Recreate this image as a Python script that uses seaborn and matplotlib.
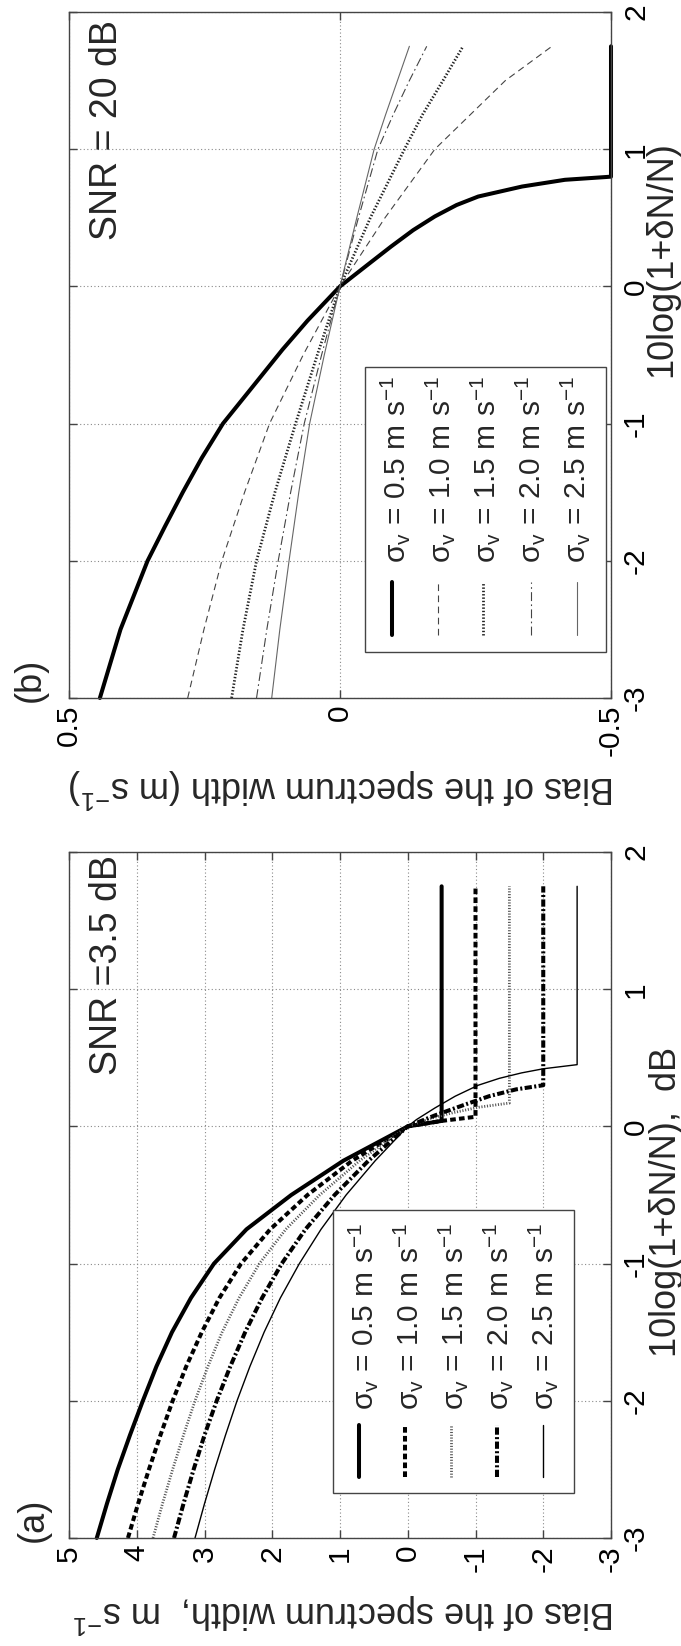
import numpy as np
import pandas as pd
import matplotlib
matplotlib.use("Agg")
import matplotlib.pyplot as plt
import seaborn as sns
from matplotlib.patches import Rectangle
from matplotlib.lines import Line2D

# ---------------- data ----------------
sigma_values = ["0.5", "1.0", "1.5", "2.0", "2.5"]

# panel (a): SNR = 3.5 dB   (db = 10log(1+dN/N), bias in m/s)
a_db_neg = [-3, -2.75, -2.5, -2.25, -2, -1.75, -1.5, -1.25, -1, -0.75, -0.5, -0.25, 0]
a_db_05 = a_db_neg + [0.04, 1.75]
a_bias_05 = [4.59, 4.44, 4.28, 4.10, 3.91, 3.71, 3.48, 3.20, 2.86, 2.38, 1.72, 0.95, 0,
             -0.5, -0.5]
a_db_10 = a_db_neg + [0.04, 0.07, 1.75]
a_bias_10 = [4.13, 3.98, 3.82, 3.65, 3.47, 3.27, 3.04, 2.78, 2.46, 2.03, 1.48, 0.82, 0,
             -0.5, -1.0, -1.0]
a_db_15 = a_db_neg + [0.06, 0.10, 0.14, 0.17, 1.75]
a_bias_15 = [3.76, 3.62, 3.47, 3.31, 3.14, 2.95, 2.74, 2.49, 2.19, 1.80, 1.30, 0.71, 0,
             -0.35, -0.67, -1.05, -1.5, -1.5]
a_db_20 = a_db_neg + [0.08, 0.16, 0.22, 0.27, 0.30, 1.75]
a_bias_20 = [3.45, 3.31, 3.16, 3.00, 2.82, 2.62, 2.40, 2.15, 1.86, 1.51, 1.08, 0.58, 0,
             -0.40, -0.85, -1.20, -1.60, -2.0, -2.0]
a_db_25 = a_db_neg + [0.05, 0.134, 0.22, 0.30, 0.35, 0.39, 0.42, 0.45, 1.75]
a_bias_25 = [3.14, 3.00, 2.85, 2.69, 2.52, 2.33, 2.12, 1.88, 1.60, 1.28, 0.91, 0.48, 0,
             -0.13, -0.40, -0.70, -1.04, -1.35, -1.68, -2.0, -2.5, -2.5]

# panel (b): SNR = 20 dB
b_db_05 = [-3, -2.5, -2, -1.75, -1.5, -1.25, -1, -0.75, -0.46, -0.25, 0,
           0.17, 0.29, 0.41, 0.51, 0.593, 0.655, 0.728, 0.777, 0.797, 0.80, 1.75]
b_bias_05 = [0.443, 0.405, 0.355, 0.323, 0.29, 0.255, 0.216, 0.165, 0.106, 0.06, 0,
             -0.055, -0.094, -0.135, -0.175, -0.215, -0.255, -0.336, -0.415, -0.49, -0.5, -0.5]
b_db_thin = [-3, -2.5, -2, -1.5, -1, -0.5, 0, 0.5, 1, 1.25, 1.5, 1.75]
b_bias_10 = [0.281, 0.251, 0.218, 0.176, 0.130, 0.068, 0, -0.083, -0.175, -0.240, -0.305, -0.391]
b_bias_15 = [0.200, 0.179, 0.154, 0.120, 0.082, 0.042, 0, -0.056, -0.119, -0.152, -0.190, -0.227]
b_bias_20 = [0.154, 0.135, 0.114, 0.091, 0.066, 0.034, 0, -0.034, -0.070, -0.098, -0.128, -0.160]
b_bias_25 = [0.126, 0.111, 0.094, 0.076, 0.056, 0.029, 0, -0.031, -0.063, -0.084, -0.106, -0.128]

a_bias_ticks = [5, 4, 3, 2, 1, 0, -1, -2, -3]
a_bias_ticklabels = ["5", "4", "3", "2", "1", "0", "-1", "-2", "-3"]
b_bias_ticks = [0.5, 0, -0.5]
b_bias_ticklabels = ["0.5", "0", "-0.5"]
db_ticks = [-3, -2, -1, 0, 1, 2]
db_ticklabels = ["-3", "-2", "-1", "0", "1", "2"]

# ---------------- style ----------------
sns.set_style("white")
plt.rcParams["font.family"] = ["Liberation Sans", "DejaVu Sans"]
plt.rcParams["mathtext.fontset"] = "custom"
plt.rcParams["mathtext.rm"] = "Liberation Sans"
plt.rcParams["mathtext.it"] = "Liberation Sans:italic"
plt.rcParams["mathtext.bf"] = "Liberation Sans:bold"
plt.rcParams["axes.unicode_minus"] = False

W, H = 681, 1646
fig = plt.figure(figsize=(W / 100, H / 100), dpi=100)
fig.patch.set_facecolor("white")


def fx(x):
    return x / W


def fy(y):
    return 1 - y / H


AX_L, AX_R = 69, 611
ax_b = fig.add_axes([fx(AX_L), fy(698), (AX_R - AX_L) / W, 686 / H])
ax_a = fig.add_axes([fx(AX_L), fy(1538), (AX_R - AX_L) / W, 686 / H])

a_styles = [
    dict(lw=2.9, ls="-", color="black"),
    dict(lw=2.9, ls=(0, (1.4, 0.8)), color="black"),
    dict(lw=2.0, ls=(0, (0.4, 0.6)), color="#555555"),
    dict(lw=2.9, ls=(0, (1.8, 0.6, 0.5, 0.6)), color="black"),
    dict(lw=1.0, ls="-", color="black"),
]
b_styles = [
    dict(lw=2.9, ls="-", color="black"),
    dict(lw=0.8, ls=(0, (6, 4)), color="#444444"),
    dict(lw=2.0, ls=(0, (0.5, 0.7)), color="#222222"),
    dict(lw=0.8, ls=(0, (8, 3, 1.5, 3)), color="#444444"),
    dict(lw=0.8, ls="-", color="#666666"),
]

a_series = [(a_db_05, a_bias_05), (a_db_10, a_bias_10), (a_db_15, a_bias_15),
            (a_db_20, a_bias_20), (a_db_25, a_bias_25)]
b_series = [(b_db_05, b_bias_05), (b_db_thin, b_bias_10), (b_db_thin, b_bias_15),
            (b_db_thin, b_bias_20), (b_db_thin, b_bias_25)]

SP_COL = "#444444"
TICK_FS = 21.5


def setup(ax, xlim, xticks, xticklabels):
    ax.set_xlim(*xlim)
    ax.set_ylim(-3, 2)
    ax.set_xticks(xticks)
    ax.set_xticklabels(xticklabels)
    ax.set_yticks(db_ticks)
    ax.set_yticklabels(db_ticklabels)
    ax.set_axisbelow(True)
    ax.grid(True, ls=(0, (1, 2.2)), color="#8a8a8a", lw=0.8)
    for s in ax.spines.values():
        s.set_color(SP_COL)
        s.set_linewidth(1.0)
        s.set_visible(True)
    ax.tick_params(axis="both", direction="in", length=6, width=1, color=SP_COL,
                   top=True, bottom=True, left=True, right=True,
                   labelleft=False, labelright=True, labelbottom=True, labeltop=False,
                   labelsize=TICK_FS, labelcolor="black")
    ax.tick_params(axis="x", labelrotation=90, pad=5)
    ax.tick_params(axis="y", labelrotation=90, pad=8)
    for t in ax.yaxis.get_majorticklabels():
        t.set_va("center")
        t.set_ha("left")
    ax.set_xlabel("")
    ax.set_ylabel("")


for (db, bias), st in zip(a_series, a_styles):
    sns.lineplot(x=bias, y=db, ax=ax_a, sort=False, estimator=None,
                 color=st["color"], linewidth=st["lw"], linestyle=st["ls"], clip_on=False)
for (db, bias), st in zip(b_series, b_styles):
    sns.lineplot(x=bias, y=db, ax=ax_b, sort=False, estimator=None,
                 color=st["color"], linewidth=st["lw"], linestyle=st["ls"], clip_on=False)

setup(ax_a, (5, -3), a_bias_ticks, a_bias_ticklabels)
setup(ax_b, (0.5, -0.5), b_bias_ticks, b_bias_ticklabels)


# ---------------- manual (rotated) legends ----------------
def legend(box, sample_x, sample_y, base_x, text_y, styles):
    x0, y0, x1, y1 = box
    fig.add_artist(Rectangle((fx(x0), fy(y1)), (x1 - x0) / W, (y1 - y0) / H,
                             transform=fig.transFigure, facecolor="white",
                             edgecolor=SP_COL, linewidth=1.0, zorder=5))
    for sx, bx, st, sv in zip(sample_x, base_x, styles, sigma_values):
        fig.add_artist(Line2D([fx(sx), fx(sx)], [fy(sample_y[1]), fy(sample_y[0])],
                              transform=fig.transFigure, color=st["color"],
                              linewidth=st["lw"], linestyle=st["ls"], zorder=6))
        fig.text(fx(bx), fy(text_y),
                 "\u03c3$_\\mathregular{v}$ = " + sv + " m s$^\\mathregular{-1}$",
                 rotation=90, rotation_mode="anchor", ha="left", va="baseline",
                 fontsize=21.5, zorder=7)


legend((333, 1210, 574, 1493), [359, 405, 451, 497, 543], (1425, 1477),
       [373, 418, 463, 508, 553], 1410, a_styles)
legend((365, 367, 606, 652), [392, 438, 483, 531, 577], (582, 635),
       [405, 450, 495, 540, 585], 563, b_styles)

# ---------------- texts ----------------
LAB_FS = 26
fig.text(fx(344), fy(1613), "Bias of the spectrum width,  m s$^\\mathregular{-1}$",
         rotation=180, ha="center", va="center", fontsize=LAB_FS)
fig.text(fx(342), fy(788), "Bias of the spectrum width (m s$^\\mathregular{-1}$)",
         rotation=180, ha="center", va="center", fontsize=LAB_FS)
fig.text(fx(666), fy(1202), "10log(1+\u03b4N/N),  dB",
         rotation=90, ha="center", va="center", fontsize=LAB_FS)
fig.text(fx(662), fy(259), "10log(1+\u03b4N/N)",
         rotation=90, ha="center", va="center", fontsize=LAB_FS)
fig.text(fx(33), fy(1520), "(a)", rotation=90, ha="center", va="center", fontsize=LAB_FS)
fig.text(fx(30), fy(680), "(b)", rotation=90, ha="center", va="center", fontsize=LAB_FS)
fig.text(fx(107), fy(965), "SNR =3.5 dB", rotation=90, ha="center", va="center", fontsize=27)
fig.text(fx(107), fy(130), "SNR = 20 dB", rotation=90, ha="center", va="center", fontsize=27)

fig.savefig("out.png", dpi=100, facecolor="white")
